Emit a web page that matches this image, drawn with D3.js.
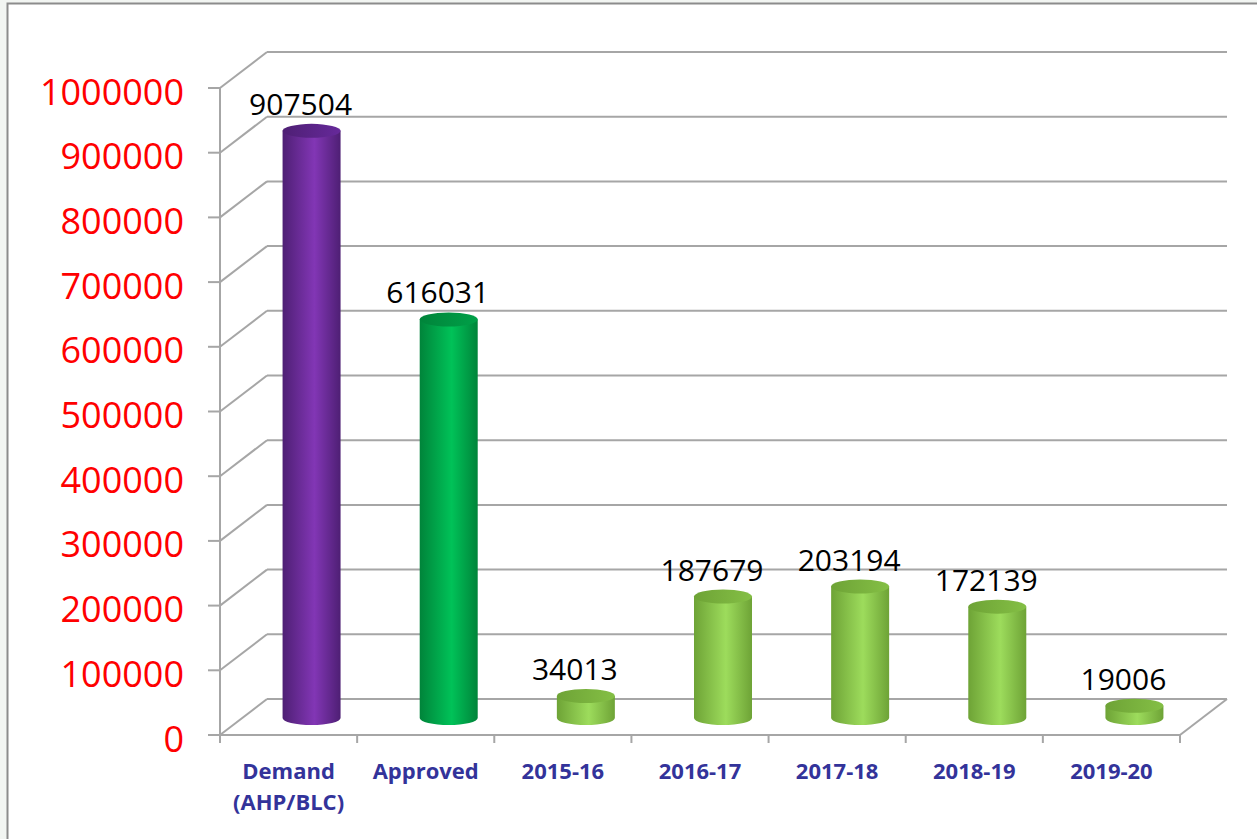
<!DOCTYPE html>
<html lang="en">
<head>
    <meta charset="utf-8">
    <script src="https://d3js.org/d3.v7.min.js"></script>
    <style>
        body { margin: 0; background: #f2f5f2; overflow: hidden; }
    </style>
</head>
<body>
    <div id="chart"></div>
    <script>
        // chart values
        const categories = ["Demand|(AHP/BLC)", "Approved", "2015-16", "2016-17", "2017-18", "2018-19", "2019-20"];
        const values = [907504, 616031, 34013, 187679, 203194, 172139, 19006];
        const barKinds = ["purple", "green", "light", "light", "light", "light", "light"];
        const yTickValues = [0, 100000, 200000, 300000, 400000, 500000, 600000, 700000, 800000, 900000, 1000000];

        const width = 1257, height = 839;
        const depthX = 47, depthY = -36; // perspective offset of the back wall
        const rx = 29, ry = 7;

        const svg = d3.select("#chart").append("svg")
            .attr("width", width)
            .attr("height", height);

        // white chart area with grey frame
        svg.append("rect")
            .attr("x", 7.5).attr("y", 3.5)
            .attr("width", 1300).attr("height", 900)
            .attr("fill", "white")
            .attr("stroke", "#8c8c8c")
            .attr("stroke-width", 2);

        const x = d3.scaleBand().domain(categories).range([220, 1180]);
        const y = d3.scaleLinear().domain([0, 1000000]).range([735, 88]);

        // gradients for the cylinders
        const colors = {
            purple: { edge: "#4e1f74", mid: "#8236b5", top: "#66299a" },
            green: { edge: "#00843a", mid: "#00c258", top: "#00a048" },
            light: { edge: "#6ea336", mid: "#9ddc5c", top: "#84bf45" }
        };
        const defs = svg.append("defs");
        Object.keys(colors).forEach(k => {
            const g = defs.append("linearGradient").attr("id", "body-" + k)
                .attr("x1", "0%").attr("x2", "100%").attr("y1", "0%").attr("y2", "0%");
            g.append("stop").attr("offset", "0%").attr("stop-color", colors[k].edge);
            g.append("stop").attr("offset", "55%").attr("stop-color", colors[k].mid);
            g.append("stop").attr("offset", "100%").attr("stop-color", colors[k].edge);
            const t = defs.append("linearGradient").attr("id", "top-" + k)
                .attr("x1", "0%").attr("x2", "100%").attr("y1", "0%").attr("y2", "0%");
            t.append("stop").attr("offset", "0%").attr("stop-color", colors[k].edge);
            t.append("stop").attr("offset", "100%").attr("stop-color", colors[k].top);
        });

        const gridColor = "#a6a6a6";
        const x0 = x.range()[0], x1 = x.range()[1];

        // grid: side diagonals and back wall lines
        const grid = svg.append("g").attr("stroke", gridColor).attr("stroke-width", 2).attr("fill", "none");
        yTickValues.forEach(v => {
            grid.append("line")
                .attr("x1", x0).attr("y1", y(v))
                .attr("x2", x0 + depthX).attr("y2", y(v) + depthY);
            grid.append("line")
                .attr("x1", x0 + depthX).attr("y1", y(v) + depthY)
                .attr("x2", x1 + depthX).attr("y2", y(v) + depthY);
        });
        // floor front edge and right side
        grid.append("line")
            .attr("x1", x0).attr("y1", y(0)).attr("x2", x1).attr("y2", y(0));
        grid.append("line")
            .attr("x1", x1).attr("y1", y(0)).attr("x2", x1 + depthX).attr("y2", y(0) + depthY);

        // y axis line and ticks
        grid.append("line")
            .attr("x1", x0).attr("y1", y(1000000)).attr("x2", x0).attr("y2", y(0));
        yTickValues.forEach(v => {
            grid.append("line")
                .attr("x1", x0 - 12).attr("y1", y(v)).attr("x2", x0).attr("y2", y(v));
        });
        // x ticks at category boundaries
        categories.concat([null]).forEach((c, i) => {
            const tx = c ? x(c) : x1;
            grid.append("line")
                .attr("x1", tx).attr("y1", y(0)).attr("x2", tx).attr("y2", y(0) + 8);
        });

        // y tick labels
        svg.append("g").selectAll("text").data(yTickValues).enter().append("text")
            .attr("x", 184)
            .attr("y", d => y(d) + 3)
            .attr("dominant-baseline", "central")
            .attr("text-anchor", "end")
            .attr("fill", "#ff0000")
            .style("font-family", "'Open Sans', sans-serif")
            .style("font-size", "36px")
            .text(d => d);

        // category labels
        const catG = svg.append("g").selectAll("text").data(categories).enter().append("text")
            .attr("text-anchor", "middle")
            .attr("fill", "#33339a")
            .style("font-family", "'Open Sans', sans-serif")
            .style("font-weight", "bold")
            .style("font-size", "22px");
        catG.each(function (d) {
            const lines = d.split("|");
            const cx = x(d) + x.bandwidth() / 2;
            lines.forEach((l, j) => {
                d3.select(this).append("tspan")
                    .attr("x", cx)
                    .attr("y", 779 + j * 31)
                    .text(l);
            });
        });

        // cylinders
        const cylOffX = 23, cylOffY = -17;
        const bars = svg.append("g").selectAll("g").data(values).enter().append("g");
        bars.each(function (d, i) {
            const g = d3.select(this);
            const cx = x(categories[i]) + x.bandwidth() / 2 + cylOffX;
            const yTop = y(d) + cylOffY;
            const yBot = y(0) + cylOffY;
            const k = barKinds[i];
            g.append("path")
                .attr("d", `M${cx - rx},${yTop} L${cx - rx},${yBot} A${rx},${ry} 0 0 0 ${cx + rx},${yBot} L${cx + rx},${yTop} Z`)
                .attr("fill", `url(#body-${k})`);
            g.append("ellipse")
                .attr("cx", cx).attr("cy", yTop)
                .attr("rx", rx).attr("ry", ry)
                .attr("fill", `url(#top-${k})`);
        });

        // value labels
        svg.append("g").selectAll("text").data(values).enter().append("text")
            .attr("x", (d, i) => x(categories[i]) + x.bandwidth() / 2 + 12)
            .attr("y", d => y(d) + cylOffY - 16)
            .attr("text-anchor", "middle")
            .attr("fill", "black")
            .style("font-family", "'Open Sans', sans-serif")
            .style("font-size", "30px")
            .text(d => d);
    </script>
</body>
</html>
